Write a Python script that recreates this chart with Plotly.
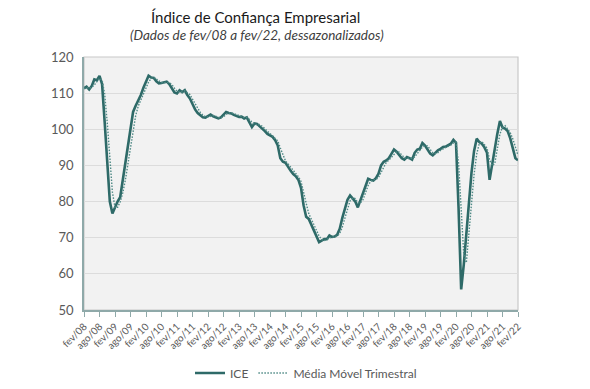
import plotly.graph_objects as go
import pandas as pd

meses = ["jan", "fev", "mar", "abr", "mai", "jun", "jul", "ago", "set", "out", "nov", "dez"]
# monthly categories fev/08 .. fev/22
month_labels = []
for i in range(169):
    k = 1 + i  # month index starting at fev (index 1)
    yy = 8 + k // 12
    month_labels.append(f"{meses[k % 12]}/{yy:02d}")

ice = [
    111.3, 111.8, 111.0, 112.0, 113.8, 113.6, 114.8, 112.5, 102.0, 91.0,   # fev/08 - nov/08
    80.0, 76.7, 78.5, 80.0, 81.2, 86.0, 90.5, 95.5, 100.0, 104.8,          # dez/08 - set/09
    106.5, 108.0, 109.5, 111.5, 113.0, 114.8, 114.3, 114.2, 113.3, 112.7,  # out/09 - jul/10
    112.8, 113.0, 113.2, 112.5, 111.5, 110.2, 109.9, 110.8, 110.3, 110.8,  # ago/10 - mai/11
    109.5, 108.5, 107.0, 105.5, 104.5, 104.0, 103.3, 103.2, 103.7, 104.1,  # jun/11 - mar/12
    103.6, 103.2, 103.0, 103.3, 104.2, 104.8, 104.5, 104.4, 104.0, 103.6,  # abr/12 - jan/13
    103.4, 103.5, 103.0, 103.3, 102.0, 100.6, 101.6, 101.5, 100.8, 100.2,  # fev/13 - nov/13
    99.5, 98.7, 98.2, 97.9, 97.0, 95.5, 92.0, 91.0, 90.7, 89.5,            # dez/13 - set/14
    88.5, 87.6, 87.0, 86.0, 83.8, 79.0, 75.8, 75.2, 73.6, 72.0,            # out/14 - jul/15
    70.5, 68.8, 69.2, 69.6, 69.6, 70.6, 70.2, 70.3, 70.8, 72.5,            # ago/15 - mai/16
    75.5, 78.4, 80.5, 81.7, 80.8, 80.0, 78.4, 80.5, 82.6, 84.5,            # jun/16 - mar/17
    86.3, 86.0, 85.8, 86.5, 87.7, 90.0, 91.0, 91.4, 92.0, 93.2,            # abr/17 - jan/18
    94.4, 93.8, 92.8, 92.0, 91.6, 92.3, 92.0, 91.6, 93.5, 94.4,            # fev/18 - nov/18
    94.6, 96.2, 95.5, 94.5, 93.3, 92.8, 93.6, 94.2, 94.6, 95.1,            # dez/18 - set/19
    95.2, 95.6, 96.0, 97.1, 96.3, 78.0, 55.7, 62.5, 71.0, 80.5,            # out/19 - jul/20
    88.0, 94.0, 97.4, 96.5, 96.0, 95.0, 93.5, 86.0, 90.5, 95.0,            # ago/20 - mai/21
    98.8, 102.3, 100.5, 100.2, 99.5, 97.5, 95.0, 92.0, 91.4,               # jun/21 - fev/22
]

# three-month moving average of the ICE series (as labelled in the chart)
media_movel = pd.Series(ice).rolling(3, min_periods=1).mean().round(2).tolist()

tick_idx = list(range(0, 169, 6))
tick_text = [month_labels[i] for i in tick_idx]
y_ticks = [50, 60, 70, 80, 90, 100, 110, 120]

line_color = "#2e6a68"
font_family = "Lato, 'Open Sans', sans-serif"

fig = go.Figure()
fig.add_trace(go.Scatter(
    x=list(range(169)), y=ice, mode="lines", name="ICE",
    line=dict(color=line_color, width=2.6),
))
fig.add_trace(go.Scatter(
    x=list(range(169)), y=media_movel, mode="lines", name="Média Móvel Trimestral",
    line=dict(color="#4f8a86", width=1.4, dash="1.5px,1.5px"),
))

# page body has an 8px default margin; figure coords = screen coords - 8
OFF = 8
L, R, T, B = 84 - OFF, 590 - 518 + OFF, 57 - OFF, 389 - 310 + OFF
PH = 253.0
PW = 434.0
fig.update_layout(
    width=590, height=389,
    margin=dict(l=L, r=R, t=T, b=B, autoexpand=False),
    paper_bgcolor="white",
    plot_bgcolor="#f2f2f2",
    font=dict(family=font_family, color="#595959"),
    showlegend=True,
    legend=dict(orientation="h", x=(306 - 84) / PW, xanchor="center",
                y=-(373 - 310) / PH, yanchor="middle",
                font=dict(size=12, color="#595959"),
                bgcolor="rgba(0,0,0,0)"),
    annotations=[
        dict(text="Índice de Confiança Empresarial", xref="paper", yref="paper",
             x=(255 - 84) / PW, y=1 + (57 - 17) / PH, xanchor="center", yanchor="middle",
             showarrow=False, font=dict(size=15, color="#1a1a1a", family=font_family)),
        dict(text="<i>(Dados de fev/08 a fev/22, dessazonalizados)</i>", xref="paper", yref="paper",
             x=(257 - 84) / PW, y=1 + (57 - 35) / PH, xanchor="center", yanchor="middle",
             showarrow=False, font=dict(size=13.5, color="#404040", family=font_family)),
    ],
    shapes=[
        dict(type="rect", xref="paper", yref="paper", x0=0, y0=0, x1=1, y1=1,
             line=dict(color="#c8c8c8", width=1.2), layer="below"),
    ],
)

fig.update_xaxes(
    range=[0, 168], tickmode="array", tickvals=tick_idx, ticktext=tick_text,
    tickangle=-45, tickfont=dict(size=10, color="#595959"),
    ticks="outside", ticklen=5, tickcolor="#8fa9a9",
    showline=True, linecolor="#8fa9a9", linewidth=1.5,
    showgrid=False, zeroline=False, automargin=False,
)
fig.update_yaxes(
    range=[50, 120], tickmode="array", tickvals=y_ticks,
    tickfont=dict(size=13, color="#595959"),
    showline=True, linecolor="#8fa9a9", linewidth=1.5,
    showgrid=True, gridcolor="#dcdcdc", gridwidth=1, zeroline=False,
    ticks="", ticklabelstandoff=6, automargin=False,
)

fig.write_html("out.html")
